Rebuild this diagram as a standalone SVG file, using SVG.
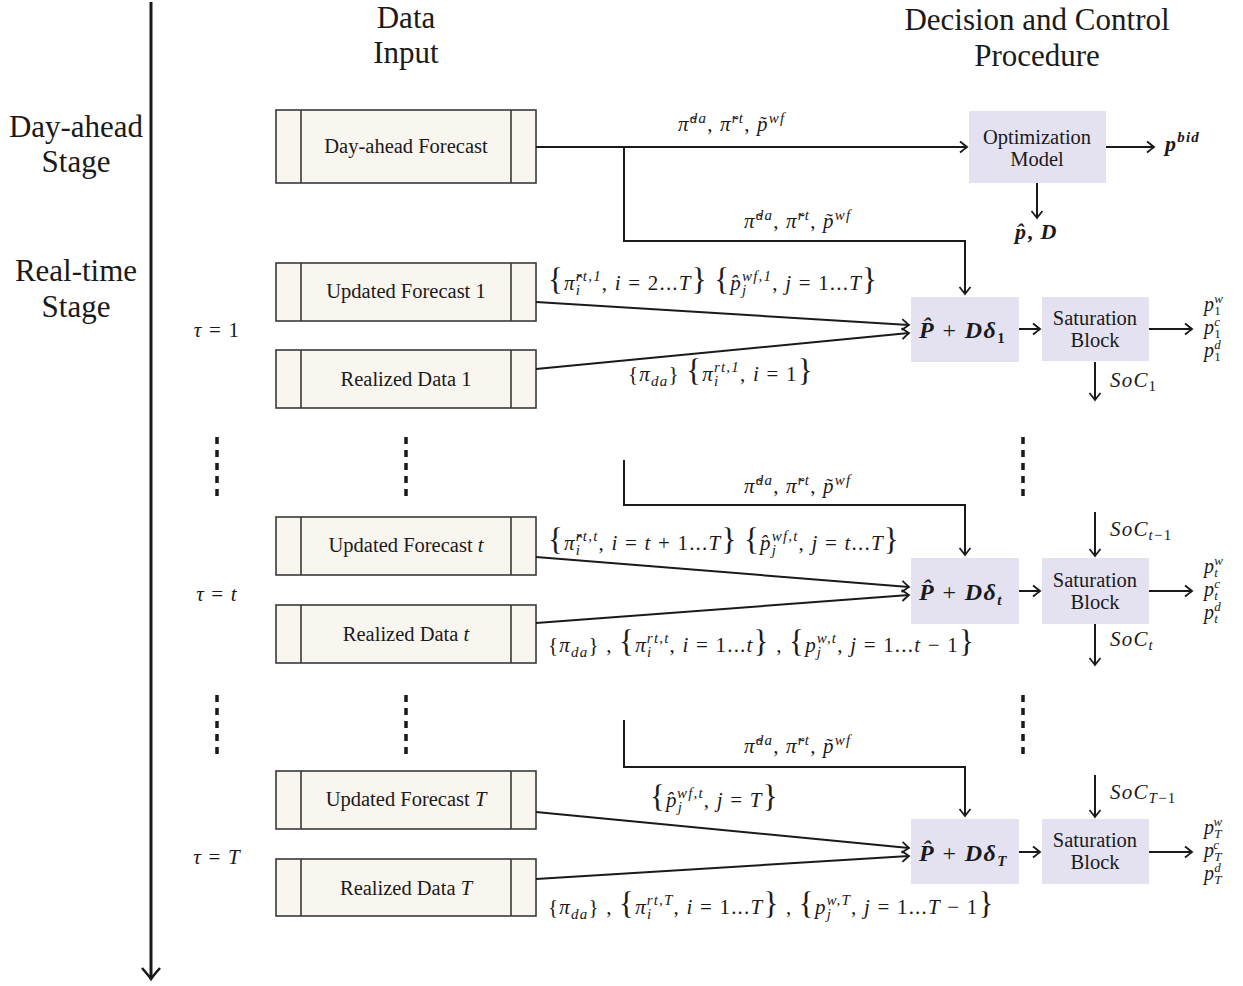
<svg xmlns="http://www.w3.org/2000/svg" width="1243" height="986" viewBox="0 0 1243 986">
<style>
.ax{stroke:#1a1a1a;stroke-width:3;fill:none}
.ln{stroke:#1a1a1a;stroke-width:2;fill:none}
.in{fill:#f9f5ef;stroke:#3a3a3a;stroke-width:1.6}
.inl{stroke:#3a3a3a;stroke-width:1.6}
.pr{fill:#e4e2f1}
.t{font-family:"Liberation Serif",serif;fill:#1a1a1a}
.hd{font-size:31px;text-anchor:middle}
.bx{font-size:20.5px;text-anchor:middle}
.m{font-family:"Liberation Serif",serif;font-style:italic;font-size:21px;letter-spacing:1.2px;fill:#1a1a1a}
.mb{font-family:"Liberation Serif",serif;font-style:italic;font-weight:bold;font-size:22px;letter-spacing:1.2px;fill:#1a1a1a}
.pd{font-size:24px;letter-spacing:1.4px}
.o{font-size:20px;letter-spacing:0.3px}
.br{font-size:31px;font-style:normal}
.s{font-size:15px}
.ss{font-size:13px}
.n{font-style:normal}
.dot{stroke:#1a1a1a;stroke-width:3.5;stroke-dasharray:7 6;fill:none}
</style>
<defs>
<marker id="ar" viewBox="-10 -8 12 16" refX="0" refY="0" markerWidth="12" markerHeight="16" markerUnits="userSpaceOnUse" orient="auto">
<path d="M-7,-5.5 Q-2,-1.5 0,0 Q-2,1.5 -7,5.5" fill="none" stroke="#1a1a1a" stroke-width="1.8"/>
</marker>
<marker id="arb" viewBox="-14 -11 16 22" refX="0" refY="0" markerWidth="16" markerHeight="22" markerUnits="userSpaceOnUse" orient="auto">
<path d="M-11,-9 Q-3,-2 0,0 Q-3,2 -11,9" fill="none" stroke="#1a1a1a" stroke-width="2.6"/>
</marker>
</defs>
<rect width="1243" height="986" fill="#ffffff"/>

<g id="axis">
<path class="ax" d="M151,2 V979" marker-end="url(#arb)"/>
</g>

<g id="headers">
<text class="t hd" x="406" y="28">Data</text>
<text class="t hd" x="406" y="63">Input</text>
<text class="t hd" x="1037" y="30">Decision and Control</text>
<text class="t hd" x="1037" y="66">Procedure</text>
<text class="t hd" x="76" y="137">Day-ahead</text>
<text class="t hd" x="76" y="172">Stage</text>
<text class="t hd" x="76" y="281">Real-time</text>
<text class="t hd" x="76" y="317">Stage</text>
</g>

<g id="tau-labels">
<text class="m" x="217" y="337" text-anchor="middle">τ<tspan class="n"> = 1</tspan></text>
<text class="m" x="217" y="601" text-anchor="middle">τ<tspan class="n"> = </tspan>t</text>
<text class="m" x="217" y="864" text-anchor="middle">τ<tspan class="n"> = </tspan>T</text>
</g>

<g id="ellipsis">
<path class="dot" d="M217,437 V500 M406,437 V500 M1023,437 V500 M217,695 V760 M406,695 V760 M1023,695 V760"/>
</g>

<g id="n-da-forecast">
<rect class="in" x="276" y="110" width="260" height="73"/>
<path class="inl" d="M301,110 V183 M511,110 V183"/>
<text class="t bx" x="406" y="153">Day-ahead Forecast</text>
</g>
<g id="n-uf1">
<rect class="in" x="276" y="263" width="260" height="58"/>
<path class="inl" d="M301,263 V321 M511,263 V321"/>
<text class="t bx" x="406" y="298">Updated Forecast 1</text>
</g>
<g id="n-rd1">
<rect class="in" x="276" y="350" width="260" height="58"/>
<path class="inl" d="M301,350 V408 M511,350 V408"/>
<text class="t bx" x="406" y="386">Realized Data 1</text>
</g>
<g id="n-uft">
<rect class="in" x="276" y="517" width="260" height="58"/>
<path class="inl" d="M301,517 V575 M511,517 V575"/>
<text class="t bx" x="406" y="552">Updated Forecast <tspan font-style="italic">t</tspan></text>
</g>
<g id="n-rdt">
<rect class="in" x="276" y="605" width="260" height="58"/>
<path class="inl" d="M301,605 V663 M511,605 V663"/>
<text class="t bx" x="406" y="641">Realized Data <tspan font-style="italic">t</tspan></text>
</g>
<g id="n-ufT">
<rect class="in" x="276" y="771" width="260" height="58"/>
<path class="inl" d="M301,771 V829 M511,771 V829"/>
<text class="t bx" x="406" y="806">Updated Forecast <tspan font-style="italic">T</tspan></text>
</g>
<g id="n-rdT">
<rect class="in" x="276" y="859" width="260" height="57"/>
<path class="inl" d="M301,859 V916 M511,859 V916"/>
<text class="t bx" x="406" y="895">Realized Data <tspan font-style="italic">T</tspan></text>
</g>

<g id="n-opt">
<rect class="pr" x="969" y="111" width="137" height="72"/>
<text class="t bx" x="1037" y="144">Optimization</text>
<text class="t bx" x="1037" y="166">Model</text>
</g>

<g id="n-pd1">
<rect class="pr" x="911" y="297" width="108" height="65"/>
<text class="mb pd" x="919" y="338">P̂<tspan class="n" font-weight="normal"> + </tspan>Dδ<tspan class="s n" dy="5">1</tspan></text>
</g>
<g id="n-sat1">
<rect class="pr" x="1042" y="297" width="107" height="64"/>
<text class="t bx" x="1095" y="325">Saturation</text>
<text class="t bx" x="1095" y="347">Block</text>
</g>
<g id="n-pdt">
<rect class="pr" x="911" y="558" width="108" height="66"/>
<text class="mb pd" x="919" y="600">P̂<tspan class="n" font-weight="normal"> + </tspan>Dδ<tspan class="s" dy="5">t</tspan></text>
</g>
<g id="n-satt">
<rect class="pr" x="1042" y="558" width="107" height="66"/>
<text class="t bx" x="1095" y="587">Saturation</text>
<text class="t bx" x="1095" y="609">Block</text>
</g>
<g id="n-pdT">
<rect class="pr" x="911" y="819" width="108" height="65"/>
<text class="mb pd" x="919" y="861">P̂<tspan class="n" font-weight="normal"> + </tspan>Dδ<tspan class="s" dy="5">T</tspan></text>
</g>
<g id="n-satT">
<rect class="pr" x="1042" y="819" width="107" height="65"/>
<text class="t bx" x="1095" y="847">Saturation</text>
<text class="t bx" x="1095" y="869">Block</text>
</g>

<g id="connectors">
<path class="ln" d="M536,147 H967" marker-end="url(#ar)"/>
<path class="ln" d="M624,147 V241 H965 V294" marker-end="url(#ar)"/>
<path class="ln" d="M1106,147 H1154" marker-end="url(#ar)"/>
<path class="ln" d="M1037,183 V218" marker-end="url(#ar)"/>
<path class="ln" d="M536,302 L909,325" marker-end="url(#ar)"/>
<path class="ln" d="M536,369 L909,333" marker-end="url(#ar)"/>
<path class="ln" d="M1019,329 H1040" marker-end="url(#ar)"/>
<path class="ln" d="M1149,329 H1192" marker-end="url(#ar)"/>
<path class="ln" d="M1095,362 V400" marker-end="url(#ar)"/>

<path class="ln" d="M624,460 V505 H965 V555" marker-end="url(#ar)"/>
<path class="ln" d="M1095,512 V556" marker-end="url(#ar)"/>
<path class="ln" d="M536,557 L909,587" marker-end="url(#ar)"/>
<path class="ln" d="M536,623 L909,595" marker-end="url(#ar)"/>
<path class="ln" d="M1019,591 H1040" marker-end="url(#ar)"/>
<path class="ln" d="M1149,591 H1192" marker-end="url(#ar)"/>
<path class="ln" d="M1095,624 V665" marker-end="url(#ar)"/>

<path class="ln" d="M624,720 V767 H965 V816" marker-end="url(#ar)"/>
<path class="ln" d="M1095,775 V817" marker-end="url(#ar)"/>
<path class="ln" d="M536,812 L909,848" marker-end="url(#ar)"/>
<path class="ln" d="M536,879 L909,856" marker-end="url(#ar)"/>
<path class="ln" d="M1019,852 H1040" marker-end="url(#ar)"/>
<path class="ln" d="M1149,852 H1192" marker-end="url(#ar)"/>
</g>

<g id="edge-labels">
<text class="m" x="678" y="131" letter-spacing="1.8">π̃<tspan class="s" dy="-8">da</tspan><tspan class="n" dy="8">, </tspan>π̃<tspan class="s" dy="-8">rt</tspan><tspan class="n" dy="8">, </tspan>p̃<tspan class="s" dy="-8">wf</tspan></text>
<text class="m" x="744" y="228" letter-spacing="1.8">π̃<tspan class="s" dy="-8">da</tspan><tspan class="n" dy="8">, </tspan>π̃<tspan class="s" dy="-8">rt</tspan><tspan class="n" dy="8">, </tspan>p̃<tspan class="s" dy="-8">wf</tspan></text>
<text class="m" x="744" y="493" letter-spacing="1.8">π̃<tspan class="s" dy="-8">da</tspan><tspan class="n" dy="8">, </tspan>π̃<tspan class="s" dy="-8">rt</tspan><tspan class="n" dy="8">, </tspan>p̃<tspan class="s" dy="-8">wf</tspan></text>
<text class="m" x="744" y="753" letter-spacing="1.8">π̃<tspan class="s" dy="-8">da</tspan><tspan class="n" dy="8">, </tspan>π̃<tspan class="s" dy="-8">rt</tspan><tspan class="n" dy="8">, </tspan>p̃<tspan class="s" dy="-8">wf</tspan></text>

<text class="m" x="548" y="290"><tspan class="br">{</tspan>π̂<tspan class="s" dy="5">i</tspan><tspan class="s" dx="-5.4" dy="-14">rt,1</tspan><tspan class="n" dy="9">, </tspan>i<tspan class="n"> = 2...</tspan>T<tspan class="br">}</tspan> <tspan class="br">{</tspan>p̂<tspan class="s" dy="5">j</tspan><tspan class="s" dx="-5.4" dy="-14">wf,1</tspan><tspan class="n" dy="9">, </tspan>j<tspan class="n"> = 1...</tspan>T<tspan class="br">}</tspan></text>
<text class="m" x="628" y="381"><tspan class="n">{</tspan>π<tspan class="s" dy="5">da</tspan><tspan class="n" dy="-5">} </tspan><tspan class="br">{</tspan>π<tspan class="s" dy="5">i</tspan><tspan class="s" dx="-5.4" dy="-14">rt,1</tspan><tspan class="n" dy="9">, </tspan>i<tspan class="n"> = 1</tspan><tspan class="br">}</tspan></text>

<text class="m" x="548" y="550"><tspan class="br">{</tspan>π̂<tspan class="s" dy="5">i</tspan><tspan class="s" dx="-5.4" dy="-14">rt,t</tspan><tspan class="n" dy="9">, </tspan>i<tspan class="n"> = </tspan>t<tspan class="n"> + 1...</tspan>T<tspan class="br">}</tspan> <tspan class="br">{</tspan>p̂<tspan class="s" dy="5">j</tspan><tspan class="s" dx="-5.4" dy="-14">wf,t</tspan><tspan class="n" dy="9">, </tspan>j<tspan class="n"> = </tspan>t<tspan class="n">...</tspan>T<tspan class="br">}</tspan></text>
<text class="m" x="548" y="652"><tspan class="n">{</tspan>π<tspan class="s" dy="5">da</tspan><tspan class="n" dy="-5">} , </tspan><tspan class="br">{</tspan>π<tspan class="s" dy="5">i</tspan><tspan class="s" dx="-5.4" dy="-14">rt,t</tspan><tspan class="n" dy="9">, </tspan>i<tspan class="n"> = 1...</tspan>t<tspan class="br">}</tspan><tspan class="n"> , </tspan><tspan class="br">{</tspan>p<tspan class="s" dy="5">j</tspan><tspan class="s" dx="-5.4" dy="-14">w,t</tspan><tspan class="n" dy="9">, </tspan>j<tspan class="n"> = 1...</tspan>t<tspan class="n"> − 1</tspan><tspan class="br">}</tspan></text>

<text class="m" x="650" y="807" letter-spacing="2"><tspan class="br">{</tspan>p̂<tspan class="s" dy="5">j</tspan><tspan class="s" dx="-6.2" dy="-14">wf,t</tspan><tspan class="n" dy="9">, </tspan>j<tspan class="n"> = </tspan>T<tspan class="br">}</tspan></text>
<text class="m" x="548" y="914" letter-spacing="1.4"><tspan class="n">{</tspan>π<tspan class="s" dy="5">da</tspan><tspan class="n" dy="-5">} , </tspan><tspan class="br">{</tspan>π<tspan class="s" dy="5">i</tspan><tspan class="s" dx="-5.6" dy="-14">rt,T</tspan><tspan class="n" dy="9">, </tspan>i<tspan class="n"> = 1...</tspan>T<tspan class="br">}</tspan><tspan class="n"> , </tspan><tspan class="br">{</tspan>p<tspan class="s" dy="5">j</tspan><tspan class="s" dx="-5.6" dy="-14">w,T</tspan><tspan class="n" dy="9">, </tspan>j<tspan class="n"> = 1...</tspan>T<tspan class="n"> − 1</tspan><tspan class="br">}</tspan></text>
</g>

<g id="output-labels">
<text class="mb" x="1165" y="151">p<tspan class="s" dy="-9">bid</tspan></text>
<text class="mb" x="1015" y="239" letter-spacing="2">p̂<tspan class="n">, </tspan>D</text>

<text class="m" x="1110" y="387">SoC<tspan class="s n" dy="4">1</tspan></text>
<text class="m" x="1110" y="536">SoC<tspan class="s" dy="4">t</tspan><tspan class="s n">−1</tspan></text>
<text class="m" x="1110" y="646">SoC<tspan class="s" dy="4">t</tspan></text>
<text class="m" x="1110" y="799">SoC<tspan class="s" dy="4">T</tspan><tspan class="s n">−1</tspan></text>

<text class="m o"><tspan x="1204" y="311">p</tspan><tspan class="ss n" dy="4">1</tspan><tspan class="ss" dx="-6.8" dy="-12">w</tspan><tspan x="1204" y="334">p</tspan><tspan class="ss n" dy="4">1</tspan><tspan class="ss" dx="-6.8" dy="-12">c</tspan><tspan x="1204" y="357">p</tspan><tspan class="ss n" dy="4">1</tspan><tspan class="ss" dx="-6.8" dy="-12">d</tspan></text>

<text class="m o"><tspan x="1204" y="573">p</tspan><tspan class="ss" dy="4">t</tspan><tspan class="ss" dx="-3.9" dy="-12">w</tspan><tspan x="1204" y="596">p</tspan><tspan class="ss" dy="4">t</tspan><tspan class="ss" dx="-3.9" dy="-12">c</tspan><tspan x="1204" y="619">p</tspan><tspan class="ss" dy="4">t</tspan><tspan class="ss" dx="-3.9" dy="-12">d</tspan></text>

<text class="m o"><tspan x="1204" y="834">p</tspan><tspan class="ss" dy="4">T</tspan><tspan class="ss" dx="-7.5" dy="-12">w</tspan><tspan x="1204" y="857">p</tspan><tspan class="ss" dy="4">T</tspan><tspan class="ss" dx="-7.5" dy="-12">c</tspan><tspan x="1204" y="880">p</tspan><tspan class="ss" dy="4">T</tspan><tspan class="ss" dx="-7.5" dy="-12">d</tspan></text>
</g>
</svg>
